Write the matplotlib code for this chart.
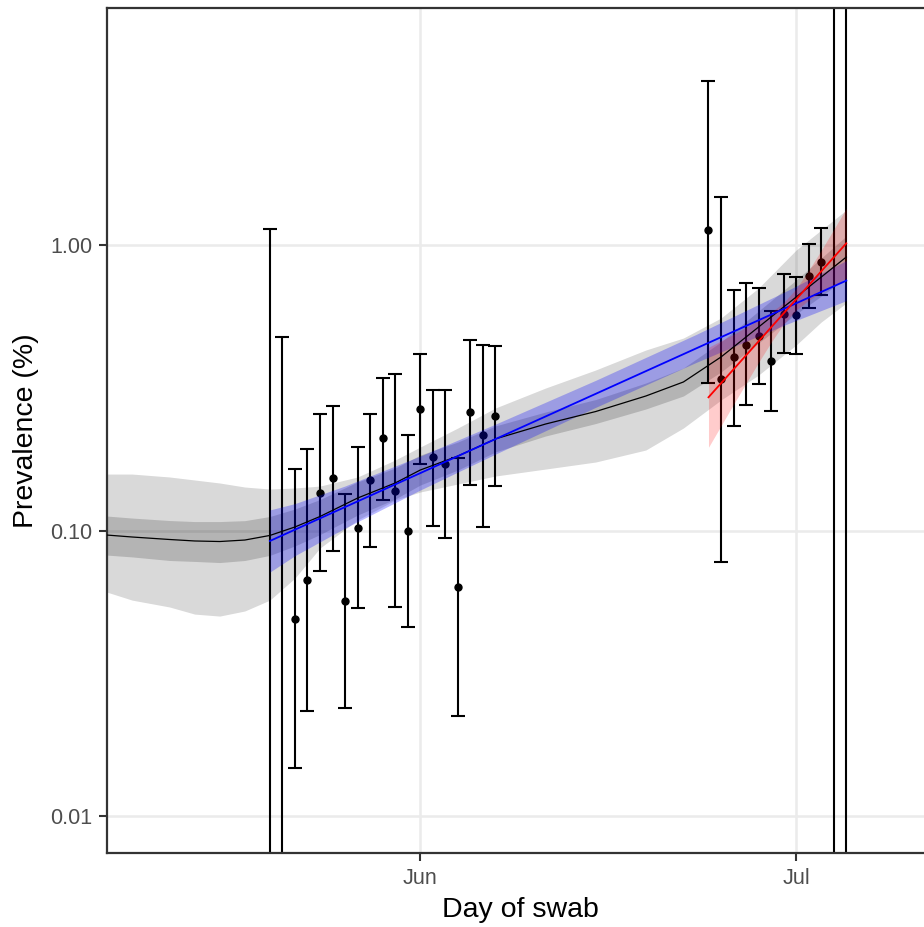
import numpy as np
import matplotlib
matplotlib.use("Agg")
import matplotlib.pyplot as plt

# ---------------- data ----------------
obs_dates = ['2021-05-20', '2021-05-21', '2021-05-22', '2021-05-23', '2021-05-24',
             '2021-05-25', '2021-05-26', '2021-05-27', '2021-05-28', '2021-05-29',
             '2021-05-30', '2021-05-31', '2021-06-01', '2021-06-02', '2021-06-03',
             '2021-06-04', '2021-06-05', '2021-06-06', '2021-06-07',
             '2021-06-24', '2021-06-25', '2021-06-26', '2021-06-27', '2021-06-28',
             '2021-06-29', '2021-06-30', '2021-07-01', '2021-07-02', '2021-07-03',
             '2021-07-04', '2021-07-05']
obs_prev = [0, 0, 0.0489, 0.0671, 0.1357, 0.1525, 0.0566, 0.1023, 0.1504, 0.2107,
            0.1381, 0.0996, 0.2676, 0.1806, 0.1712, 0.0633, 0.2604, 0.2163, 0.2522,
            1.131, 0.3409, 0.4053, 0.4486, 0.4827, 0.3943, 0.5736, 0.5703, 0.7834, 0.8752,
            0, 0]
obs_lower = [0, 0, 0.01464, 0.02326, 0.0721, 0.0849, 0.0238, 0.0535, 0.0877, 0.128,
             0.0539, 0.0457, 0.1716, 0.1034, 0.0941, 0.0223, 0.1444, 0.1026, 0.1436,
             0.330, 0.0774, 0.2332, 0.275, 0.3266, 0.2633, 0.4185, 0.415, 0.605, 0.6705,
             0, 0]
obs_upper = [1.14, 0.476, 0.1643, 0.1932, 0.2563, 0.274, 0.1343, 0.1963, 0.257, 0.3428,
             0.3549, 0.2163, 0.415, 0.3119, 0.3119, 0.1792, 0.467, 0.4476, 0.4440,
             3.79, 1.480, 0.6998, 0.737, 0.711, 0.5876, 0.796, 0.775, 1.012, 1.149,
             100, 100]

# smoothed (P-spline) fit with 50% and 95% intervals
gam_dates = ['2021-05-07', '2021-05-09', '2021-05-12', '2021-05-14', '2021-05-16',
             '2021-05-18', '2021-05-20', '2021-05-22',
             '2021-05-24', '2021-05-27', '2021-05-30', '2021-06-01', '2021-06-04',
             '2021-06-07', '2021-06-11', '2021-06-15', '2021-06-19', '2021-06-22',
             '2021-06-25', '2021-06-28', '2021-07-01', '2021-07-03', '2021-07-05']
gam_mid = [0.0964, 0.0949, 0.0930, 0.0919, 0.0915, 0.0926, 0.0961, 0.1029,
           0.1120, 0.1300, 0.1468, 0.1630, 0.1825,
           0.2096, 0.2364, 0.2615, 0.2964, 0.3320, 0.4063, 0.5176, 0.6596, 0.7750, 0.9112]
gam_lo50 = [0.0820, 0.0808, 0.0785, 0.0779, 0.0772, 0.0785, 0.0818, 0.0883,
            0.0968, 0.1133, 0.1290, 0.1444, 0.1630,
            0.1887, 0.2146, 0.2373, 0.2669, 0.2965, 0.3599, 0.4548, 0.5750, 0.6647, 0.7690]
gam_hi50 = [0.1124, 0.1106, 0.1084, 0.1075, 0.1075, 0.1083, 0.1120, 0.1190,
            0.1285, 0.1480, 0.1657, 0.1840, 0.2044,
            0.2328, 0.2605, 0.2881, 0.3292, 0.3718, 0.4587, 0.5891, 0.7567, 0.9036, 1.0797]
gam_lo95 = [0.0608, 0.0570, 0.0539, 0.0509, 0.0501, 0.0522, 0.0570, 0.0681,
            0.0868, 0.1089, 0.1279, 0.1365, 0.1456,
            0.1553, 0.1643, 0.1739, 0.1916, 0.2289, 0.2870, 0.3512, 0.4476, 0.5390, 0.6284]
gam_hi95 = [0.1578, 0.1578, 0.1541, 0.1504, 0.1468, 0.1421, 0.1398, 0.1410,
            0.1432, 0.1541, 0.1768, 0.1963, 0.2289,
            0.2691, 0.3162, 0.3658, 0.4298, 0.4735, 0.5566, 0.7093, 0.9643, 1.1333, 1.3321]

# exponential fit across both rounds (blue)
blue_dates = ['2021-05-20', '2021-05-22', '2021-05-26', '2021-06-01', '2021-06-07',
              '2021-06-15', '2021-06-23', '2021-06-30', '2021-07-05']
blue_mid = [0.0919, 0.1007, 0.1209, 0.1590, 0.2093, 0.3017, 0.4351, 0.5990, 0.7530]
blue_lo = [0.0715, 0.0816, 0.1020, 0.1387, 0.1854, 0.2705, 0.3885, 0.5243, 0.6405]
blue_hi = [0.1181, 0.1243, 0.1433, 0.1825, 0.2362, 0.3365, 0.4871, 0.6845, 0.8851]

# exponential fit within the latest round (red)
red_dates = ['2021-06-24', '2021-06-26', '2021-06-28', '2021-06-29', '2021-06-30',
             '2021-07-01', '2021-07-02', '2021-07-03', '2021-07-04', '2021-07-05']
red_mid = [0.2934, 0.3678, 0.4611, 0.5164, 0.5782, 0.6475, 0.7250, 0.8120, 0.9091, 1.0179]
red_lo = [0.1959, 0.2772, 0.3892, 0.4574, 0.5305, 0.5939, 0.6424, 0.6852, 0.7250, 0.7672]
red_hi = [0.4393, 0.4879, 0.5466, 0.5829, 0.6303, 0.7058, 0.8185, 0.9620, 1.1397, 1.3506]

x_ticks = ['2021-06-01', '2021-07-01']
x_ticklabels = ['Jun', 'Jul']
y_ticks = [0.01, 0.1, 1.0]
y_ticklabels = ['0.01', '0.10', '1.00']

# ---------------- figure ----------------
plt.rcParams['font.family'] = ['Liberation Sans', 'DejaVu Sans']
fig = plt.figure(figsize=(9.24, 9.27), dpi=100)
ax = fig.add_axes([107 / 924, 74 / 927, (933 - 107) / 924, (853 - 8) / 927])

to_d = lambda s: np.array(s, dtype='datetime64[D]')
xo = to_d(obs_dates)
prev = np.array(obs_prev, float)
lo = np.array(obs_lower, float)
hi = np.array(obs_upper, float)

xg = to_d(gam_dates)
ax.fill_between(xg, gam_lo95, gam_hi95, color='black', alpha=0.15, lw=0, zorder=1)
ax.fill_between(xg, gam_lo50, gam_hi50, color='black', alpha=0.17, lw=0, zorder=1.1)

# error bars
ax.vlines(xo, np.where(lo > 0, lo, 1e-6), hi, color='black', lw=1.5, zorder=2)
ax.plot(xo, hi, ls='none', marker='_', ms=9.5, mew=1.5, color='black', zorder=2)
ax.plot(xo, np.where(lo > 0, lo, np.nan), ls='none', marker='_', ms=9.5, mew=1.5,
        color='black', zorder=2)
ax.plot(xo, np.where(prev > 0, prev, np.nan), ls='none', marker='o', ms=5.0,
        color='black', zorder=2.1)

xb = to_d(blue_dates)
xr = to_d(red_dates)
ax.fill_between(xb, blue_lo, blue_hi, color='blue', alpha=0.28, lw=0, zorder=3)
ax.fill_between(xr, red_lo, red_hi, color='red', alpha=0.2, lw=0, zorder=3.1)
ax.plot(xg, gam_mid, color='black', lw=0.9, zorder=4)
ax.plot(xb, blue_mid, color='blue', lw=1.3, zorder=4.1)
ax.plot(xr, red_mid, color='red', lw=1.3, zorder=4.2)

ax.set_yscale('log')
ax.set_ylim(0.00739, 6.81)
ax.set_xlim(np.datetime64('2021-06-01') - np.timedelta64(25, 'D'),
            np.datetime64('2021-06-01') + np.timedelta64(41, 'D') - np.timedelta64(1, 'h') * 2)

ax.set_yticks(y_ticks)
ax.set_yticklabels(y_ticklabels)
ax.yaxis.set_minor_locator(matplotlib.ticker.NullLocator())
ax.set_xticks(to_d(x_ticks))
ax.set_xticklabels(x_ticklabels)
ax.xaxis.set_minor_locator(matplotlib.ticker.NullLocator())

ax.grid(True, which='major', color='#ebebeb', lw=1.8, zorder=0)
ax.set_axisbelow(True)
for s in ax.spines.values():
    s.set_color('#333333')
    s.set_linewidth(1.6)
ax.tick_params(axis='both', which='major', length=5.5, width=1.5, color='#333333',
               labelsize=15.5, labelcolor='#4d4d4d', pad=5)

ax.set_xlabel('Day of swab', fontsize=20.5, color='black', labelpad=6)
ax.set_ylabel('Prevalence (%)', fontsize=20.5, color='black', labelpad=8)

fig.savefig('out.png', dpi=100)
